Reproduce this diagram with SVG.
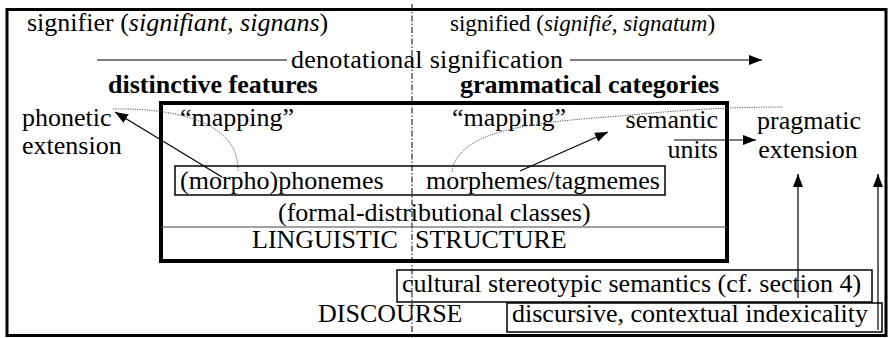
<svg xmlns="http://www.w3.org/2000/svg" width="889" height="338" viewBox="0 0 889 338">
<style>
text{font-family:"Liberation Serif","Times New Roman",serif;font-size:26px;fill:#000}
.b{font-weight:bold}
.i{font-style:italic}
.box{fill:none;stroke:#000}
.ln{fill:none;stroke:#000;stroke-width:1.2}
.dot{fill:none;stroke:#555;stroke-width:1;stroke-dasharray:1.2 1.2}
</style>
<defs>
<marker id="ah" markerUnits="userSpaceOnUse" markerWidth="14" markerHeight="10" refX="13" refY="5" orient="auto">
<path d="M0,0 L13,5 L0,10 Z" fill="#000"/>
</marker>
</defs>
<rect width="889" height="338" fill="#fff"/>
<g id="frame">
<rect class="box" x="7" y="9.5" width="879" height="326" stroke-width="3"/>
</g>
<g id="axis">
<line x1="412" y1="4" x2="412" y2="338" stroke="#000" stroke-width="1" stroke-dasharray="6 2 1.5 2"/>
</g>
<g id="signifier"><text x="27" y="31">signifier (<tspan class="i">signifiant, signans</tspan>)</text></g>
<g id="signified"><text x="450" y="31" style="font-size:23px">signified (<tspan class="i">signifié, signatum</tspan>)</text></g>
<g id="denotational"><text x="291" y="68" textLength="272">denotational signification</text></g>
<g id="distinctive"><text class="b" x="108" y="93">distinctive features</text></g>
<g id="grammatical"><text class="b" x="460" y="93">grammatical categories</text></g>
<g id="phonetic"><text x="22" y="126">phonetic</text><text x="22" y="154">extension</text></g>
<g id="pragmatic"><text x="809" y="129" text-anchor="middle">pragmatic</text><text x="808" y="158" text-anchor="middle">extension</text></g>
<g id="linguistic-structure">
<rect class="box" x="161" y="103" width="566" height="158" stroke-width="4"/>
<line x1="161" y1="227" x2="727" y2="227" stroke="#444" stroke-width="1"/>
<text x="180" y="126">“mapping”</text>
<text x="452" y="126">“mapping”</text>
<text x="718" y="128" text-anchor="end">semantic</text>
<text x="718" y="158" text-anchor="end">units</text>
<text x="278" y="221">(formal-distributional classes)</text>
<text x="252" y="248">LINGUISTIC</text>
<text x="415" y="248">STRUCTURE</text>
</g>
<g id="morphemes">
<rect class="box" x="175" y="166" width="490" height="29" stroke-width="1.5"/>
<text x="180" y="189">(morpho)phonemes</text>
<text x="426" y="189">morphemes/tagmemes</text>
</g>
<g id="cultural">
<rect class="box" x="397" y="270" width="475" height="32" stroke-width="1.5"/>
<text x="402" y="292">cultural stereotypic semantics (cf. section 4)</text>
</g>
<g id="discourse"><text x="318" y="322">DISCOURSE</text></g>
<g id="discursive">
<rect class="box" x="507" y="303" width="375" height="29" stroke-width="1.5"/>
<text x="512" y="322">discursive, contextual indexicality</text>
</g>
<g id="connectors">
<line class="ln" x1="97" y1="60" x2="287" y2="60"/>
<line class="ln" x1="570" y1="60" x2="762" y2="60" marker-end="url(#ah)"/>
<path class="dot" d="M113,109 C190,108 240,128 238,172"/>
<line class="ln" x1="222" y1="177" x2="115" y2="112" stroke-width="1.8" marker-end="url(#ah)"/>
<path class="dot" d="M452,172 C458,128 540,122 620,116 C680,110 730,107 783,107"/>
<line class="ln" x1="520" y1="171" x2="608" y2="132" marker-end="url(#ah)"/>
<line class="ln" x1="674" y1="140" x2="756" y2="140" marker-end="url(#ah)"/>
<line class="ln" x1="798" y1="298" x2="798" y2="174" marker-end="url(#ah)"/>
<line class="ln" x1="878" y1="330" x2="878" y2="174" marker-end="url(#ah)"/>
</g>
</svg>
